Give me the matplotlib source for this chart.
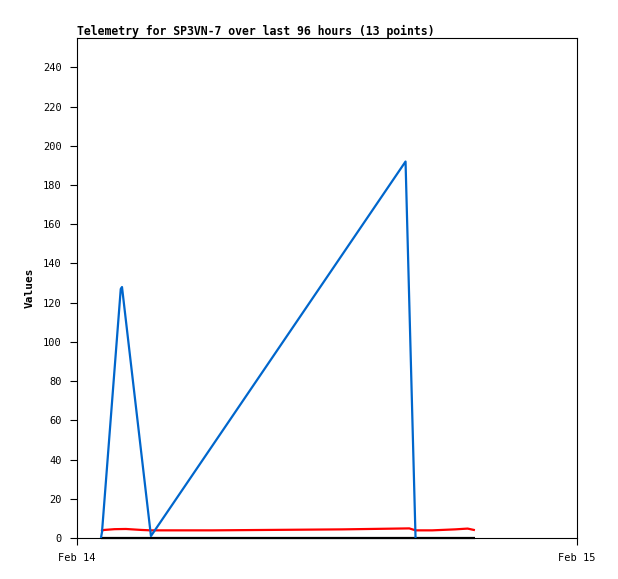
import numpy as np
import matplotlib
matplotlib.use("Agg")
import matplotlib.pyplot as plt
import matplotlib.dates as mdates
from datetime import datetime, timedelta

# 時刻 (Feb 14 0時からの経過時間, h) と値
start = datetime(2024, 2, 14)
blue_hours = [1.15, 1.20, 2.10, 2.16, 3.55, 15.77, 16.25]
blue_vals = [0, 3, 127, 128, 1, 192, 0]

red_hours = [1.15, 1.30, 1.80, 2.35, 3.10, 3.55, 6.50, 12.75, 15.95, 16.25, 17.05, 18.15, 18.75, 19.10]
red_vals = [3.6, 4.1, 4.5, 4.6, 4.1, 3.9, 3.9, 4.4, 4.9, 3.9, 3.9, 4.4, 4.8, 4.0]

black_hours = [1.15, 19.10]
black_vals = [0, 0]

title = "Telemetry for SP3VN-7 over last 96 hours (13 points)"

def to_dt(hs):
    return [start + timedelta(hours=h) for h in hs]

mono = ["DejaVu Sans Mono"]

fig = plt.figure(figsize=(6.18, 5.79), dpi=100)
ax = fig.add_axes([77 / 618, 41 / 579, 500 / 618, 500 / 579])

ax.plot(to_dt(black_hours), black_vals, color="black", lw=1.6, solid_capstyle="butt",
        clip_on=False, zorder=3)
ax.plot(to_dt(red_hours), red_vals, color="#ff0000", lw=1.6, solid_capstyle="butt", zorder=4)
ax.plot(to_dt(blue_hours), blue_vals, color="#0066cc", lw=1.6, solid_capstyle="butt", zorder=5)

ax.set_xlim(start, start + timedelta(days=1))
ax.set_ylim(0, 255)
ax.set_yticks(np.arange(0, 241, 20))
ax.xaxis.set_major_locator(mdates.DayLocator())
ax.xaxis.set_major_formatter(mdates.DateFormatter("%b %d"))

for s in ax.spines.values():
    s.set_linewidth(0.8)
    s.set_color("black")
ax.tick_params(direction="out", length=5, width=0.8, labelsize=7.5, pad=6)
for lab in ax.get_xticklabels() + ax.get_yticklabels():
    lab.set_family(mono)

ax.set_ylabel("Values", family=mono, fontsize=8, fontweight="bold", labelpad=6)
ax.set_title(title, loc="left", family=mono, fontsize=8.3, fontweight="bold", pad=1.5)

fig.savefig("out.png", dpi=100)
